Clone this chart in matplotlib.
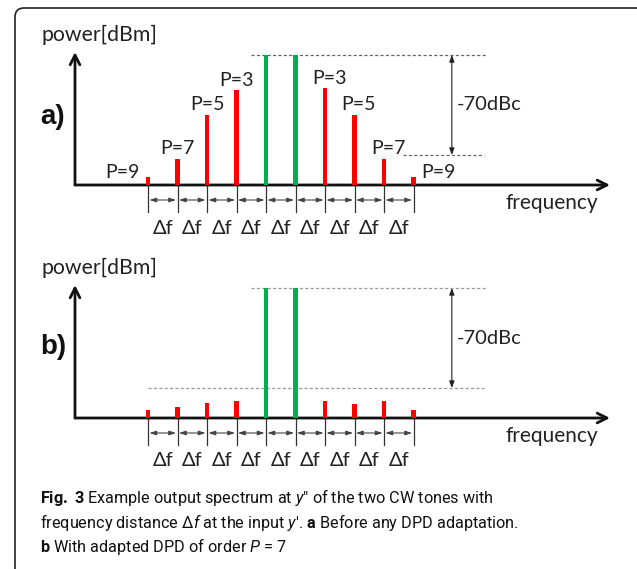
import matplotlib
matplotlib.use("Agg")
import matplotlib.pyplot as plt
from matplotlib.patches import FancyBboxPatch

# ---- data (relative power in dBc, tone index in units of delta-f) ----
tone_idx = [0, 1, 2, 3, 4, 5, 6, 7, 8, 9]
carrier_idx = [4, 5]
power_a = [-85.4, -72.8, -42.0, -24.5, 0.0, 0.0, -23.1, -42.0, -72.8, -85.4]
power_b = [-85.4, -83.3, -80.5, -79.1, 0.0, 0.0, -79.1, -81.2, -79.1, -85.4]
order_labels_a = ["P=9", "P=7", "P=5", "P=3", "", "", "P=3", "P=5", "P=7", "P=9"]
dbc_limit = -70.0
floor_db = -91.0

W, H = 637, 569
DIAG_FONT = ["Lato", "DejaVu Sans"]
RED, GREEN = "#ff0000", "#00b050"
PX_X = 29.5   # pixels per delta-f
PX_DB = 0.7   # dB per pixel

plt.rcParams["mathtext.fontset"] = "custom"
plt.rcParams["mathtext.rm"] = "Roboto"
plt.rcParams["mathtext.it"] = "Roboto:italic"
plt.rcParams["mathtext.bf"] = "Roboto:bold"

fig = plt.figure(figsize=(W / 100, H / 100), dpi=100)

# background axes in pixel coordinates (frame, caption, panel tags)
bg = fig.add_axes([0, 0, 1, 1])
bg.set_xlim(0, W)
bg.set_ylim(H, 0)
bg.axis("off")
bg.add_patch(FancyBboxPatch((15, 8), 630, 600, boxstyle="round,pad=0,rounding_size=9",
                            fill=False, ec="#222222", lw=1.2))


def panel(top, bottom, power, labels, dash_col, low_start):
    left, right = 75, 610
    ax = fig.add_axes([left / W, 1 - bottom / H, (right - left) / W, (bottom - top) / H])
    x0 = 148
    ax.set_xlim((left - x0) / PX_X, (right - x0) / PX_X)
    ax.set_ylim(floor_db, floor_db + (bottom - top) * PX_DB)
    ax.axis("off")
    xl, yl = ax.get_xlim(), ax.get_ylim()

    # axes arrows
    ax.annotate("", xy=(xl[1], floor_db), xytext=(xl[0], floor_db), annotation_clip=False,
                arrowprops=dict(arrowstyle="->,head_length=0.7,head_width=0.35", lw=2, color="#111111",
                                shrinkA=0, shrinkB=0))
    ax.annotate("", xy=(xl[0], yl[1]), xytext=(xl[0], floor_db), annotation_clip=False,
                arrowprops=dict(arrowstyle="->,head_length=0.7,head_width=0.35", lw=2, color="#111111",
                                shrinkA=0, shrinkB=0))

    # spectral lines
    cols = [GREEN if i in carrier_idx else RED for i in tone_idx]
    ax.bar(tone_idx, [p - floor_db for p in power], bottom=floor_db, width=0.14,
           color=cols, zorder=3)

    # reference levels
    ax.plot([3.5, 11.5], [0, 0], ls=(0, (2.5, 1.8)), color=dash_col, lw=0.9)
    ax.plot([low_start, 11.4], [dbc_limit, dbc_limit], ls=(0, (2.5, 1.8)), color=dash_col, lw=0.9)
    ax.annotate("", xy=(10.3, 0), xytext=(10.3, dbc_limit),
                arrowprops=dict(arrowstyle="<|-|>,head_length=0.4,head_width=0.15", lw=0.8,
                                color="#222222", shrinkA=0, shrinkB=0))
    ax.text(10.45, dbc_limit / 2, "-70dBc", family=DIAG_FONT, fontsize=14.5,
            ha="left", va="center", color="#222222")

    # delta-f brackets
    for i in tone_idx:
        ax.plot([i, i], [floor_db, floor_db - 27 * PX_DB], color="#333333", lw=0.9, clip_on=False)
    for i in tone_idx[:-1]:
        ax.annotate("", xy=(i + 1, floor_db - 15 * PX_DB), xytext=(i, floor_db - 15 * PX_DB),
                    annotation_clip=False,
                    arrowprops=dict(arrowstyle="<|-|>,head_length=0.4,head_width=0.13", lw=0.8,
                                    color="#444444", shrinkA=1, shrinkB=1))
        ax.text(i + 0.5, floor_db - 43 * PX_DB, "\u0394f", family=DIAG_FONT, fontsize=14.5,
                ha="center", va="center", color="#222222")

    ax.text(13.7, floor_db - 18 * PX_DB, "frequency", family=DIAG_FONT, fontsize=15,
            ha="center", va="center", color="#222222")
    ax.text(-1.63, yl[1] + 17 * PX_DB, "power[dBm]", family=DIAG_FONT, fontsize=15.3,
            ha="center", va="center", color="#222222")

    # order labels
    for i, (p, lab) in enumerate(zip(power, labels)):
        if not lab:
            continue
        if i == 0:
            ax.annotate(lab, (i, p), xytext=(-8, 4), textcoords="offset pixels", ha="right",
                        va="center", family=DIAG_FONT, fontsize=14, color="#222222")
        elif i == len(power) - 1:
            ax.annotate(lab, (i, p), xytext=(8, 5), textcoords="offset pixels", ha="left",
                        va="center", family=DIAG_FONT, fontsize=14, color="#222222")
        else:
            dx = 0 if i < 5 else 4
            ax.annotate(lab, (i, p), xytext=(dx, 10), textcoords="offset pixels", ha="center",
                        va="center", family=DIAG_FONT, fontsize=14, color="#222222")
    return ax


panel(52, 185, power_a, order_labels_a, "#666666", 8.65)
panel(285, 418, power_b, [""] * 10, "#9a9a9a", 0.0)

bg.text(53, 117, "a)", fontsize=20, fontweight="bold", family="Liberation Sans",
        ha="center", va="center", color="#111111")
bg.text(53, 347, "b)", fontsize=20, fontweight="bold", family="Liberation Sans",
        ha="center", va="center", color="#111111")

cap_font = ["Roboto", "DejaVu Sans"]
cap_size = 11.7
bg.text(40, 503, "$\\mathbf{Fig.}$ $\\mathbf{3}$ Example output spectrum at $y$\u2033 of the two CW tones with",
        family=cap_font, fontsize=cap_size, va="baseline", ha="left", color="#111111")
bg.text(40, 528, "frequency distance $\\Delta f$ at the input $y$\u2032. $\\mathbf{a}$ Before any DPD adaptation.",
        family=cap_font, fontsize=cap_size, va="baseline", ha="left", color="#111111")
bg.text(40, 552, "$\\mathbf{b}$ With adapted DPD of order $P$ = 7",
        family=cap_font, fontsize=cap_size, va="baseline", ha="left", color="#111111")

fig.savefig("out.png", dpi=100)
